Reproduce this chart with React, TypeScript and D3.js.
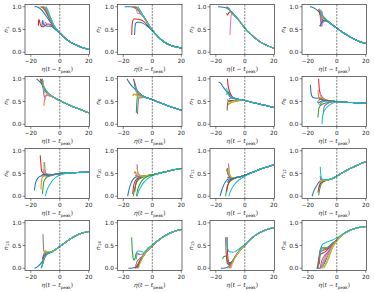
import React from "react";
import * as d3 from "d3";

type Pt = [number, number];
type Head = [number, Pt[]];

const COLORS = ["#1f77b4", "#ff7f0e", "#2ca02c", "#d62728", "#9467bd", "#8c564b", "#e377c2", "#7f7f7f", "#bcbd22", "#17becf"];
const X_TICKS = [-20, 0, 20];
const Y_TICKS = [0, 0.5, 1];
const Y_NAMES = ["1", "2", "3", "4", "5", "6", "7", "8", "9", "10", "11", "12", "13", "14", "15", "16"];

// shared late-time curve of each panel, sampled at TAIL_X
const TAIL_X = [-18, -15, -12, -9, -6, -3, 0, 4, 8, 12, 16, 20];
const N1_TAIL = [null, 0.99, 0.91, 0.78, 0.64, 0.52, 0.42, 0.3, 0.21, 0.15, 0.1, 0.06];
const N2_TAIL = [1.0, 1.0, 0.97, 0.9, 0.78, 0.63, 0.48, 0.34, 0.23, 0.16, 0.12, 0.09];
const N3_TAIL = [1.0, 0.99, 0.96, 0.88, 0.77, 0.66, 0.53, 0.4, 0.29, 0.2, 0.14, 0.09];
const N4_TAIL = [1.0, 0.96, 0.88, 0.77, 0.68, 0.6, 0.53, 0.44, 0.36, 0.29, 0.23, 0.19];
const N5_TAIL = [null, 1.0, 0.87, 0.72, 0.63, 0.57, 0.52, 0.46, 0.4, 0.35, 0.3, 0.25];
const N6_TAIL = [null, null, 0.8, 0.67, 0.61, 0.57, 0.54, 0.49, 0.44, 0.39, 0.35, 0.31];
const N7_TAIL = [null, null, 0.7, 0.6, 0.56, 0.54, 0.52, 0.49, 0.46, 0.43, 0.4, 0.37];
const N8_TAIL = [null, null, 0.58, 0.54, 0.52, 0.51, 0.5, 0.49, 0.48, 0.475, 0.47, 0.465];
const N9_TAIL = [null, null, 0.45, 0.46, 0.47, 0.485, 0.5, 0.51, 0.515, 0.52, 0.525, 0.53];
const N10_TAIL = [null, null, 0.42, 0.43, 0.44, 0.455, 0.47, 0.5, 0.53, 0.56, 0.59, 0.61];
const N11_TAIL = [null, null, 0.38, 0.39, 0.41, 0.43, 0.46, 0.51, 0.56, 0.61, 0.65, 0.69];
const N12_TAIL = [null, null, 0.33, 0.34, 0.36, 0.39, 0.44, 0.52, 0.59, 0.65, 0.71, 0.76];
const N13_TAIL = [null, 0.04, 0.15, 0.3, 0.35, 0.41, 0.48, 0.57, 0.66, 0.73, 0.78, 0.81];
const N14_TAIL = [null, 0.0, 0.02, 0.12, 0.28, 0.4, 0.5, 0.61, 0.7, 0.77, 0.82, 0.85];
const N15_TAIL = [null, 0.0, 0.02, 0.12, 0.28, 0.41, 0.51, 0.64, 0.74, 0.81, 0.86, 0.89];
const N16_TAIL = [null, null, 0.0, 0.08, 0.3, 0.5, 0.62, 0.74, 0.82, 0.87, 0.9, 0.92];

// early transient of each run: [colour index, points], then it follows the tail
const N1_HEADS: Head[] = [
  [0, [[-17.5, 1], [-16, 1], [-15, 0.99]]],
  [1, [[-14, 1], [-12, 0.98], [-10, 0.9], [-6, 0.67], [-3, 0.53]]],
  [2, [[-13, 1], [-11, 0.97], [-9, 0.86], [-6, 0.68], [-3, 0.53]]],
  [3, [[-14.8, 0.58], [-14.6, 0.7], [-14.3, 0.72], [-13.8, 0.65], [-13, 0.58], [-12, 0.56], [-10, 0.59], [-8, 0.62], [-6, 0.6], [-3, 0.51]]],
  [4, [[-12, 1], [-10.5, 0.96], [-9, 0.87], [-6, 0.69], [-3, 0.53]]],
  [5, [[-11.5, 1], [-10, 0.95], [-8, 0.82], [-6, 0.69], [-3, 0.53]]],
  [6, [[-11, 1], [-9.5, 0.94], [-8, 0.84], [-6, 0.7], [-3, 0.53]]],
  [6, [[-10.5, 0.58], [-10, 0.66], [-9, 0.63], [-7, 0.6], [-3, 0.51]]],
  [7, [[-10.5, 1], [-9, 0.93], [-7, 0.8], [-3, 0.53]]],
  [8, [[-10, 1], [-8.5, 0.92], [-6, 0.72], [-3, 0.53]]],
  [0, [[-12.3, 0.58], [-12, 0.68], [-11.7, 0.7], [-11.3, 0.62], [-10, 0.58], [-8, 0.57], [-6, 0.57], [-3, 0.5]]],
  [9, [[-9.5, 1], [-8, 0.91], [-6, 0.72], [-3, 0.53]]],
];
const N2_HEADS: Head[] = [
  [0, [[-19, 1], [-18.5, 1]]],
  [1, [[-14, 1], [-12, 0.99], [-9, 0.92], [-6, 0.78]]],
  [2, [[-13, 1], [-11, 0.98], [-9, 0.91], [-6, 0.78]]],
  [3, [[-14.2, 0.38], [-13.9, 0.6], [-13.4, 0.7], [-12.5, 0.73], [-11, 0.73], [-9, 0.72], [-6, 0.68], [-3, 0.58], [0, 0.48]]],
  [4, [[-12, 1], [-10, 0.96], [-8, 0.86], [-6, 0.78]]],
  [5, [[-11.5, 1], [-10, 0.95], [-8, 0.85], [-6, 0.78]]],
  [6, [[-11, 0.97], [-10.3, 0.86], [-9, 0.85], [-7, 0.82], [-6, 0.77]]],
  [7, [[-11, 1], [-9.5, 0.94], [-6, 0.78]]],
  [8, [[-10.5, 1], [-9, 0.93], [-6, 0.78]]],
  [0, [[-12.2, 0.38], [-11.9, 0.56], [-11.4, 0.64], [-10.5, 0.66], [-9, 0.66], [-6, 0.63], [-3, 0.56], [0, 0.48]]],
  [9, [[-10, 1], [-8.5, 0.93], [-6, 0.79]]],
];
const N3_HEADS: Head[] = [
  [0, [[-18.5, 1], [-18, 1]]],
  [1, [[-13, 1], [-11, 0.96], [-9, 0.89]]],
  [2, [[-12.5, 0.99], [-11, 0.94], [-9, 0.87]]],
  [3, [[-12.5, 0.86], [-12, 0.82], [-11.5, 0.84], [-10.5, 0.88], [-9, 0.88]]],
  [4, [[-12, 1], [-10.5, 0.93], [-9, 0.87]]],
  [5, [[-11.5, 0.98], [-10, 0.9], [-6, 0.77]]],
  [6, [[-10.2, 0.38], [-10, 0.55], [-9.7, 0.72], [-9.3, 0.82], [-8.5, 0.85], [-6, 0.77]]],
  [7, [[-11, 0.97], [-10, 0.91], [-6, 0.78]]],
  [8, [[-11, 0.95], [-9.5, 0.87], [-6, 0.77]]],
  [9, [[-12, 0.97], [-10, 0.9], [-6, 0.77]]],
];
const N4_HEADS: Head[] = [
  [0, [[-18.5, 1], [-18, 1]]],
  [1, [[-12, 0.92], [-11.5, 0.8], [-11, 0.68], [-10.5, 0.7], [-9, 0.75], [-6, 0.68]]],
  [2, [[-11.5, 0.9], [-11, 0.75], [-10.5, 0.68], [-9, 0.74], [-6, 0.68]]],
  [3, [[-12.5, 0.95], [-12, 0.88], [-11, 0.8], [-9, 0.76]]],
  [4, [[-11.2, 0.9], [-11, 0.7], [-10.8, 0.57], [-10.5, 0.62], [-9.5, 0.7], [-6, 0.68]]],
  [5, [[-10.5, 0.88], [-10.2, 0.7], [-9.8, 0.65], [-9, 0.7], [-6, 0.67]]],
  [6, [[-10.8, 0.85], [-10.6, 0.65], [-10.4, 0.56], [-10, 0.6], [-9, 0.68], [-6, 0.67]]],
  [7, [[-11, 0.93], [-10, 0.78], [-6, 0.68]]],
  [8, [[-10, 0.9], [-9.6, 0.75], [-9, 0.72], [-6, 0.68]]],
  [0, [[-11.8, 0.6], [-11.5, 0.57], [-11, 0.62], [-9, 0.7], [-6, 0.67]]],
  [9, [[-12, 0.96], [-11, 0.88], [-9, 0.78], [-6, 0.68]]],
];
const N5_HEADS: Head[] = [
  [0, [[-16, 1], [-15, 0.97]]],
  [1, [[-11, 0.4], [-10.7, 0.5], [-10.2, 0.58], [-9, 0.63], [-6, 0.61]]],
  [2, [[-13, 1], [-12, 0.88], [-11, 0.78], [-9, 0.7]]],
  [3, [[-13.5, 1], [-12.5, 0.9], [-11, 0.78], [-9, 0.7]]],
  [4, [[-12, 0.95], [-11.5, 0.8], [-11, 0.65], [-10.5, 0.6], [-9, 0.65], [-6, 0.62]]],
  [5, [[-12.5, 0.98], [-11.5, 0.85], [-10, 0.74], [-6, 0.63]]],
  [6, [[-10.5, 0.5], [-10, 0.58], [-9, 0.64], [-6, 0.62]]],
  [7, [[-12, 1], [-11, 0.83], [-9, 0.71]]],
  [8, [[-11.5, 0.97], [-11, 0.8], [-10.5, 0.7], [-9, 0.68]]],
  [9, [[-12.5, 0.95], [-11, 0.8], [-9, 0.72]]],
];
const N6_HEADS: Head[] = [
  [0, [[-17.5, 1], [-16, 0.92], [-14, 0.84], [-12, 0.78]]],
  [1, [[-13.5, 0.62], [-13, 0.65], [-12.5, 0.67], [-12, 0.66], [-10, 0.64], [-9, 0.63]]],
  [2, [[-11, 0.25], [-10.8, 0.4], [-10.5, 0.55], [-10, 0.65], [-9, 0.67]]],
  [3, [[-13, 1], [-12, 0.9], [-11, 0.78], [-9, 0.69]]],
  [4, [[-10.2, 0.22], [-10, 0.35], [-9.7, 0.5], [-9, 0.58], [-6, 0.59]]],
  [5, [[-12, 0.8], [-11, 0.72], [-9, 0.67]]],
  [6, [[-11.5, 0.85], [-11, 0.75], [-10, 0.7], [-9, 0.67]]],
  [7, [[-10.5, 0.7], [-10, 0.6], [-9, 0.6], [-6, 0.6]]],
  [8, [[-11, 0.74], [-10.5, 0.62], [-9.5, 0.6], [-6, 0.6]]],
  [0, [[-12.5, 0.95], [-12, 0.85], [-11, 0.75], [-9, 0.68]]],
  [9, [[-12, 0.85], [-11, 0.76], [-9, 0.68]]],
];
const N7_HEADS: Head[] = [
  [0, [[-18, 0.93], [-16.5, 0.9], [-14.5, 0.8], [-12, 0.7]]],
  [1, [[-12, 0.42], [-10, 0.46], [-9, 0.48], [-6, 0.5], [-3, 0.52]]],
  [2, [[-12.5, 0.65], [-12, 0.72], [-11, 0.68], [-9, 0.6]]],
  [3, [[-12, 1], [-11.5, 0.85], [-10.5, 0.72], [-9, 0.62]]],
  [4, [[-11, 0.55], [-10, 0.57], [-9, 0.58], [-6, 0.56]]],
  [5, [[-12.2, 0.3], [-12, 0.42], [-11.5, 0.5], [-10, 0.52], [-6, 0.53]]],
  [6, [[-11, 0.65], [-10, 0.62], [-9, 0.6]]],
  [7, [[-12, 0.55], [-11, 0.5], [-9, 0.5], [-6, 0.52], [-3, 0.53]]],
  [8, [[-11.5, 0.45], [-10, 0.48], [-6, 0.51], [-3, 0.53]]],
  [0, [[-11, 0.72], [-10.5, 0.62], [-9, 0.58], [-6, 0.56]]],
  [9, [[-12.5, 0.8], [-12, 0.7], [-11, 0.64], [-9, 0.6]]],
];
const N8_HEADS: Head[] = [
  [0, [[-18.2, 0.87], [-17.8, 0.7], [-17.2, 0.62], [-16, 0.58], [-14, 0.57], [-12, 0.58]]],
  [1, [[-13, 0.75], [-12.6, 0.62], [-12, 0.56], [-10, 0.54], [-9, 0.54]]],
  [2, [[-13, 0.15], [-12.6, 0.3], [-12, 0.38], [-10, 0.44], [-6, 0.48], [-3, 0.5]]],
  [3, [[-12.5, 1], [-12.2, 0.82], [-11.5, 0.68], [-10, 0.6], [-9, 0.56]]],
  [4, [[-9.3, 0.22], [-9, 0.33], [-8.5, 0.4], [-6, 0.46], [-3, 0.49]]],
  [5, [[-12.5, 0.5], [-12, 0.55], [-10, 0.55], [-9, 0.54]]],
  [6, [[-11.5, 0.72], [-11, 0.62], [-10, 0.58], [-9, 0.56]]],
  [7, [[-12, 0.42], [-11, 0.46], [-9, 0.5], [-6, 0.51]]],
  [8, [[-11, 0.6], [-10, 0.57], [-9, 0.55]]],
  [0, [[-13.5, 0.5], [-12.5, 0.47], [-11, 0.5], [-9, 0.53]]],
  [9, [[-10.2, 0.0], [-10, 0.1], [-9.5, 0.22], [-8, 0.33], [-6, 0.4], [-3, 0.46], [0, 0.49]]],
];
const N9_HEADS: Head[] = [
  [0, [[-17.5, 0.13], [-17, 0.25], [-16, 0.35], [-14.5, 0.42], [-12, 0.45]]],
  [1, [[-13, 0.15], [-12.7, 0.3], [-12, 0.42], [-10, 0.46], [-9, 0.46]]],
  [2, [[-12, 0.05], [-11.5, 0.2], [-11, 0.32], [-9, 0.42], [-6, 0.46]]],
  [3, [[-13.5, 0.9], [-13, 0.7], [-12.5, 0.55], [-11, 0.5], [-9, 0.48]]],
  [4, [[-10.5, 0.75], [-10.2, 0.58], [-9.5, 0.5], [-6, 0.48]]],
  [5, [[-11, 0.55], [-10, 0.5], [-9, 0.47]]],
  [6, [[-11.5, 0.6], [-11, 0.52], [-9, 0.48]]],
  [7, [[-10.5, 0.45], [-9, 0.44], [-6, 0.45], [-3, 0.48]]],
  [8, [[-11, 0.75], [-10.7, 0.55], [-10, 0.5], [-9, 0.48]]],
  [0, [[-12.5, 0.45], [-12, 0.48], [-10, 0.48], [-9, 0.47]]],
  [9, [[-10, 0.0], [-9, 0.12], [-7, 0.25], [-5, 0.35], [-3, 0.41], [0, 0.46], [4, 0.5]]],
];
const N10_HEADS: Head[] = [
  [0, [[-17, 0.0], [-16, 0.15], [-14.5, 0.3], [-13, 0.38], [-12, 0.41]]],
  [1, [[-12.5, 0.5], [-12, 0.54], [-11, 0.47], [-9, 0.43]]],
  [2, [[-13, 0.0], [-12.5, 0.12], [-11.5, 0.25], [-10, 0.35], [-6, 0.42]]],
  [3, [[-13.5, 0.05], [-13, 0.2], [-12, 0.32], [-10, 0.4], [-9, 0.42]]],
  [4, [[-10.5, 0.7], [-10.2, 0.58], [-9.5, 0.48], [-6, 0.44]]],
  [5, [[-12, 0.1], [-11.5, 0.25], [-10.5, 0.35], [-9, 0.4]]],
  [6, [[-11.5, 0.55], [-11, 0.48], [-9, 0.44]]],
  [7, [[-12, 0.45], [-10, 0.44], [-9, 0.43]]],
  [8, [[-10.5, 0.62], [-10, 0.5], [-9, 0.45]]],
  [2, [[-11, 0.0], [-10, 0.15], [-8, 0.3], [-6, 0.38], [-3, 0.44]]],
  [9, [[-10.5, 0.0], [-9.5, 0.1], [-8, 0.2], [-6, 0.3], [-3, 0.39], [0, 0.45], [4, 0.49]]],
];
const N11_HEADS: Head[] = [
  [0, [[-17, 0.0], [-16, 0.12], [-14.5, 0.25], [-13, 0.33], [-12, 0.37]]],
  [1, [[-12.8, 0.55], [-12.5, 0.6], [-12, 0.52], [-11, 0.45], [-9, 0.4]]],
  [2, [[-13.2, 0.0], [-12.7, 0.12], [-12, 0.22], [-10, 0.33], [-6, 0.4]]],
  [3, [[-12.5, 0.1], [-12, 0.2], [-11, 0.3], [-9, 0.37]]],
  [4, [[-11.2, 0.72], [-11, 0.6], [-10.5, 0.48], [-9, 0.41]]],
  [5, [[-12, 0.4], [-11, 0.42], [-9, 0.4]]],
  [6, [[-11.5, 0.55], [-11, 0.47], [-9, 0.41]]],
  [7, [[-12, 0.62], [-11.7, 0.5], [-10.5, 0.44], [-9, 0.4]]],
  [8, [[-11, 0.65], [-10.6, 0.5], [-9, 0.41]]],
  [0, [[-12, 0.3], [-11, 0.35], [-9, 0.38]]],
  [9, [[-11, 0.0], [-10, 0.1], [-8, 0.22], [-6, 0.3], [-3, 0.38], [0, 0.44], [4, 0.5]]],
];
const N12_HEADS: Head[] = [
  [0, [[-17, 0.0], [-16, 0.1], [-14.5, 0.2], [-13, 0.28], [-12, 0.32]]],
  [1, [[-12, 0.3], [-11, 0.33], [-9, 0.34]]],
  [2, [[-12.5, 0.02], [-12, 0.12], [-11, 0.25], [-9, 0.32]]],
  [3, [[-13, 0.08], [-12.5, 0.18], [-11.5, 0.27], [-9, 0.33]]],
  [4, [[-11.5, 0.35], [-11, 0.38], [-10, 0.36], [-9, 0.35]]],
  [5, [[-12, 0.2], [-11.5, 0.28], [-10, 0.32], [-9, 0.34]]],
  [6, [[-11, 0.4], [-10.5, 0.37], [-9, 0.35]]],
  [7, [[-11.5, 0.45], [-11, 0.38], [-9, 0.35]]],
  [8, [[-11, 0.3], [-10, 0.34], [-9, 0.34]]],
  [9, [[-11.4, 0.65], [-11.1, 0.5], [-10.6, 0.4], [-9, 0.36], [-6, 0.37]]],
];
const N13_HEADS: Head[] = [
  [0, [[-17.5, 0.0], [-16.5, 0.01], [-15, 0.04]]],
  [1, [[-12, 0.05], [-11.5, 0.2], [-11, 0.3], [-10, 0.35], [-9, 0.34], [-6, 0.36]]],
  [2, [[-12.5, 0.0], [-12, 0.12], [-11, 0.25], [-9, 0.31]]],
  [3, [[-11.5, 0.1], [-11, 0.22], [-10, 0.3], [-9, 0.32]]],
  [4, [[-11, 0.15], [-10.5, 0.28], [-9.5, 0.33], [-6, 0.36]]],
  [5, [[-12, 0.2], [-11, 0.3], [-9, 0.33]]],
  [6, [[-11, 0.3], [-10.5, 0.37], [-9.5, 0.36], [-6, 0.36]]],
  [7, [[-11.6, 0.75], [-11.3, 0.5], [-11, 0.38], [-10, 0.33], [-9, 0.32]]],
  [8, [[-11, 0.32], [-10, 0.39], [-9, 0.37], [-6, 0.37]]],
  [9, [[-13, 0.0], [-12, 0.08], [-11, 0.2], [-9, 0.3]]],
];
const N14_HEADS: Head[] = [
  [0, [[-16.5, 0.0], [-15, 0.0]]],
  [1, [[-11, 0.0], [-10, 0.05], [-9, 0.13]]],
  [2, [[-14.2, 0.68], [-14, 0.5], [-13.5, 0.3], [-13, 0.2], [-12.3, 0.18], [-11.5, 0.28], [-11, 0.33], [-10, 0.33], [-9, 0.3], [-6, 0.32], [-3, 0.41]]],
  [3, [[-12, 0.0], [-11, 0.03], [-9, 0.14]]],
  [4, [[-10.5, 0.0], [-9.5, 0.08], [-6, 0.29]]],
  [5, [[-10, 0.0], [-9, 0.1], [-6, 0.28]]],
  [6, [[-11, 0.2], [-10.5, 0.3], [-10, 0.33], [-8, 0.3], [-6, 0.3]]],
  [7, [[-11.5, 0.05], [-10.5, 0.15], [-9, 0.2], [-6, 0.29]]],
  [8, [[-9.5, 0.0], [-8.5, 0.1], [-6, 0.27]]],
  [9, [[-11.3, 0.2], [-10.8, 0.35], [-10, 0.38], [-8.5, 0.38], [-7, 0.36], [-6, 0.35], [-3, 0.44], [0, 0.51]]],
];
const N15_HEADS: Head[] = [
  [0, [[-16.5, 0.0], [-15, 0.0]]],
  [1, [[-11, 0.0], [-10, 0.05], [-9, 0.13]]],
  [2, [[-15.2, 0.2], [-14.8, 0.25], [-14, 0.26], [-13, 0.27], [-12.5, 0.25], [-12, 0.15], [-11, 0.1], [-9, 0.14]]],
  [3, [[-12.2, 0.68], [-12, 0.45], [-11.7, 0.25], [-11, 0.12], [-9, 0.13]]],
  [4, [[-10.5, 0.0], [-9.5, 0.08], [-6, 0.29]]],
  [5, [[-13.2, 0.68], [-13, 0.45], [-12.6, 0.25], [-12, 0.1], [-10, 0.08], [-9, 0.12]]],
  [6, [[-10, 0.0], [-9, 0.1], [-6, 0.28]]],
  [7, [[-12, 0.0], [-11, 0.05], [-9, 0.13]]],
  [8, [[-9.5, 0.0], [-8.5, 0.1], [-6, 0.27]]],
  [9, [[-12.4, 0.68], [-12.2, 0.5], [-11.5, 0.4], [-10.5, 0.36], [-8, 0.35], [-6, 0.38], [-3, 0.45], [0, 0.52]]],
];
const N16_HEADS: Head[] = [
  [0, [[-14, 0.0], [-13, 0.0]]],
  [1, [[-11, 0.0], [-10, 0.1], [-8, 0.25], [-6, 0.35], [-3, 0.52]]],
  [2, [[-13.5, 0.0], [-12.5, 0.2], [-11.5, 0.4], [-11, 0.45], [-9, 0.45], [-6, 0.47], [-3, 0.55], [0, 0.62]]],
  [3, [[-13, 0.0], [-12.3, 0.2], [-11.5, 0.3], [-10, 0.33], [-8, 0.36], [-6, 0.42], [-3, 0.52]]],
  [4, [[-11.5, 0.0], [-10.5, 0.15], [-9, 0.25], [-6, 0.36], [-3, 0.51]]],
  [5, [[-12, 0.1], [-11.5, 0.3], [-11, 0.37], [-9, 0.4], [-6, 0.44], [-3, 0.52]]],
  [6, [[-10.5, 0.0], [-9.5, 0.1], [-6, 0.3]]],
  [7, [[-12.5, 0.05], [-11.8, 0.3], [-11, 0.42], [-9, 0.43], [-6, 0.45], [-3, 0.53]]],
  [8, [[-10, 0.0], [-8.5, 0.05], [-6, 0.22], [-3, 0.46], [0, 0.6]]],
  [8, [[-9, 0.0], [-7.5, 0.08], [-6, 0.18], [-3, 0.44], [0, 0.6]]],
  [9, [[-11.2, 0.3], [-10.8, 0.45], [-10, 0.52], [-8, 0.56], [-5, 0.6], [-3, 0.62], [0, 0.67], [4, 0.75]]],
];

const TAILS = [N1_TAIL, N2_TAIL, N3_TAIL, N4_TAIL, N5_TAIL, N6_TAIL, N7_TAIL, N8_TAIL, N9_TAIL, N10_TAIL, N11_TAIL, N12_TAIL, N13_TAIL, N14_TAIL, N15_TAIL, N16_TAIL];
const HEADS = [N1_HEADS, N2_HEADS, N3_HEADS, N4_HEADS, N5_HEADS, N6_HEADS, N7_HEADS, N8_HEADS, N9_HEADS, N10_HEADS, N11_HEADS, N12_HEADS, N13_HEADS, N14_HEADS, N15_HEADS, N16_HEADS];

const W = 374;
const H = 292;
const COL_LEFT = [25, 117.5, 210, 302];
const ROW_TOP = [4.5, 76.5, 148.5, 220.5];
const AX_W = 64.5;
const AX_H = 50;
const FONT = "DejaVu Sans, sans-serif";
const FS = 5.8;

function Panel({ idx }: { idx: number }) {
  const left = COL_LEFT[idx % 4];
  const top = ROW_TOP[Math.floor(idx / 4)];
  const x = d3.scaleLinear().domain([-24, 20.5]).range([0, AX_W]);
  const y = d3.scaleLinear().domain([-0.05, 1.05]).range([AX_H, 0]);
  const line = d3
    .line<Pt>()
    .x((d) => x(d[0]))
    .y((d) => y(d[1]))
    .curve(d3.curveMonotoneX);
  const tail = TAILS[idx];
  const series = HEADS[idx].map(([c, head]) => {
    const lastX = head[head.length - 1][0];
    const rest: Pt[] = [];
    TAIL_X.forEach((tx, i) => {
      const v = tail[i];
      if (tx > lastX && v !== null) rest.push([tx, v as number]);
    });
    return { c, pts: head.concat(rest) };
  });
  const clipId = `clip${idx}`;
  return (
    <g transform={`translate(${left},${top})`}>
      <defs>
        <clipPath id={clipId}>
          <rect x={0} y={0} width={AX_W} height={AX_H} />
        </clipPath>
      </defs>
      <g clipPath={`url(#${clipId})`}>
        {series.map((s, i) => (
          <path key={i} d={line(s.pts) || ""} fill="none" stroke={COLORS[s.c]} strokeWidth={1.05} strokeLinejoin="round" />
        ))}
        <line x1={x(0)} x2={x(0)} y1={0} y2={AX_H} stroke="#444" strokeWidth={0.7} strokeDasharray="2,1.2" />
      </g>
      <rect x={0} y={0} width={AX_W} height={AX_H} fill="none" stroke="#333" strokeWidth={0.7} />
      {X_TICKS.map((t) => (
        <g key={t} transform={`translate(${x(t)},${AX_H})`}>
          <line y1={0} y2={2.4} stroke="#333" strokeWidth={0.6} />
          <text y={8.6} textAnchor="middle" fontSize={FS} fontFamily={FONT} fill="#222">
            {t < 0 ? `\u2212${Math.abs(t)}` : t}
          </text>
        </g>
      ))}
      {Y_TICKS.map((t) => (
        <g key={t} transform={`translate(0,${y(t)})`}>
          <line x1={0} x2={-2.4} stroke="#333" strokeWidth={0.6} />
          <text x={-3.6} dy="0.36em" textAnchor="end" fontSize={FS} fontFamily={FONT} fill="#222">
            {t.toFixed(1)}
          </text>
        </g>
      ))}
      <text x={AX_W / 2} y={AX_H + 16.8} textAnchor="middle" fontSize={FS} fontFamily={FONT} fill="#222">
        <tspan fontStyle="italic">η</tspan>(<tspan fontStyle="italic">t</tspan> − <tspan fontStyle="italic">t</tspan>
        <tspan fontSize={4.1} dy={1.3}>peak</tspan>
        <tspan dy={-1.3}>)</tspan>
      </text>
      <text transform={`translate(-17.5,${AX_H / 2}) rotate(-90)`} textAnchor="middle" fontSize={FS} fontFamily={FONT} fill="#222">
        <tspan fontStyle="italic">n</tspan>
        <tspan fontSize={4.1} dy={1.3}>{Y_NAMES[idx]}</tspan>
      </text>
    </g>
  );
}

export default function App() {
  return (
    <svg width={W} height={H} style={{ position: "absolute", left: 0, top: 0, background: "#fff" }}>
      {TAILS.map((_, i) => (
        <Panel key={i} idx={i} />
      ))}
    </svg>
  );
}
